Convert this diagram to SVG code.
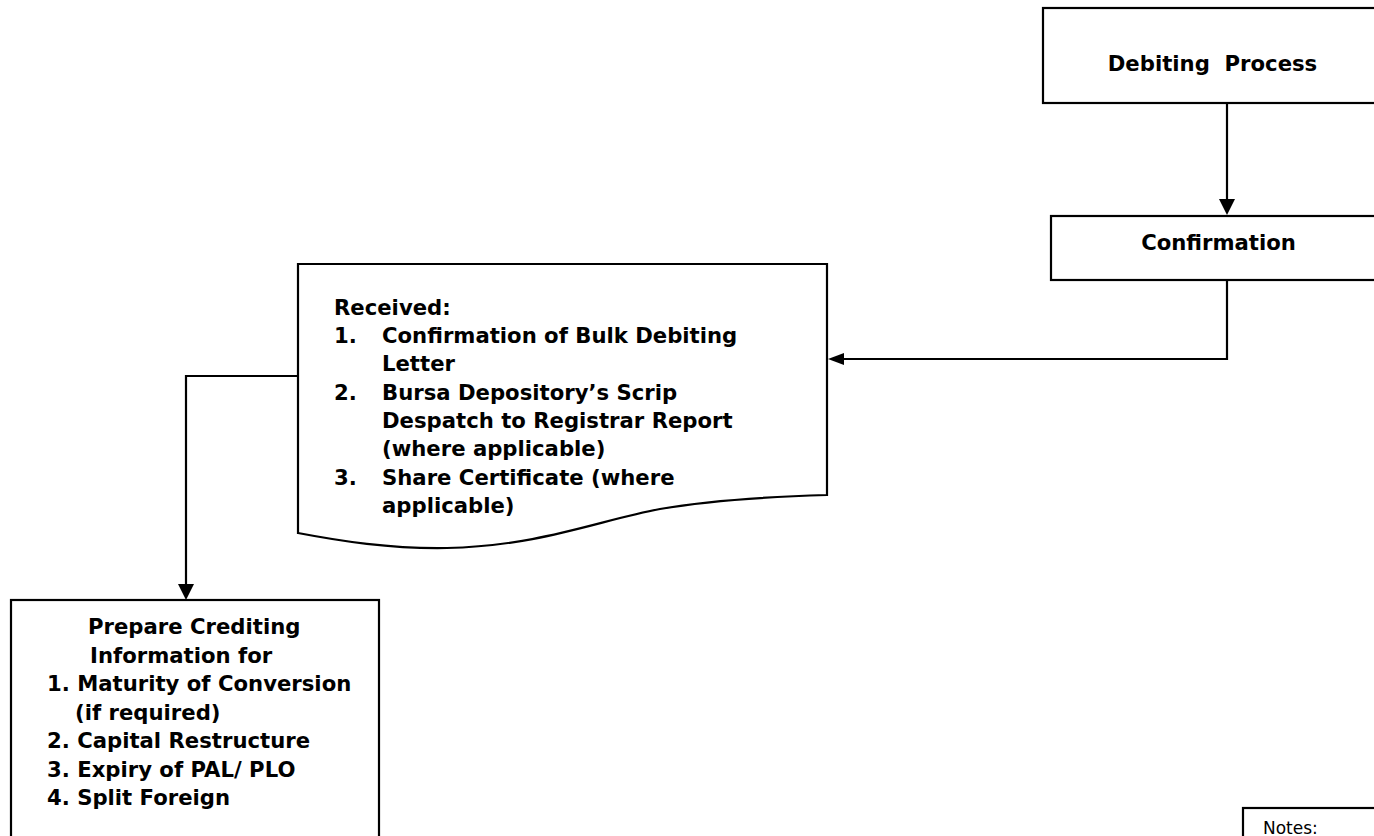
<svg xmlns="http://www.w3.org/2000/svg" width="1374" height="836" viewBox="0 0 1374 836">
<style>
.box{fill:#fff;stroke:#000;stroke-width:2.2}
.t{font-family:"DejaVu Sans",Verdana,sans-serif;font-weight:bold;font-size:21.2px;fill:#000}
.n{font-family:"DejaVu Sans",Verdana,sans-serif;font-size:17px;fill:#000}
.c{fill:none;stroke:#000;stroke-width:2.2}
</style>
<defs>
<marker id="ah" viewBox="0 0 16 16" refX="6" refY="8" markerWidth="16" markerHeight="16" markerUnits="userSpaceOnUse" orient="auto">
<path d="M0,0 L16,8 L0,16 z" fill="#000"/>
</marker>
<marker id="ah2" viewBox="0 0 16 12" refX="6" refY="6" markerWidth="16" markerHeight="12" markerUnits="userSpaceOnUse" orient="auto">
<path d="M0,0 L16,6 L0,12 z" fill="#000"/>
</marker>
</defs>
<g id="debiting">
<rect class="box" x="1043" y="8" width="360" height="95"/>
<text class="t" x="1212.5" y="70.5" text-anchor="middle" xml:space="preserve">Debiting  Process</text>
</g>
<g id="confirmation">
<rect class="box" x="1051" y="216" width="360" height="64"/>
<text class="t" x="1218.5" y="250" text-anchor="middle">Confirmation</text>
</g>
<g id="received">
<path class="box" d="M298,264 L827,264 L827,495 C760,497 700,502 660,509 C600,520 540,546 447,548 C390,549 340,541 298,533 Z"/>
<text class="t" x="334" y="314.5">Received:</text>
<text class="t" x="334" y="342.9">1.</text>
<text class="t" x="382" y="342.9">Confirmation of Bulk Debiting</text>
<text class="t" x="382" y="371.2">Letter</text>
<text class="t" x="334" y="399.6">2.</text>
<text class="t" x="382" y="399.6">Bursa Depository’s Scrip</text>
<text class="t" x="382" y="427.9">Despatch to Registrar Report</text>
<text class="t" x="382" y="456.3">(where applicable)</text>
<text class="t" x="334" y="484.6">3.</text>
<text class="t" x="382" y="484.6">Share Certificate (where</text>
<text class="t" x="382" y="513">applicable)</text>
</g>
<g id="prepare">
<rect class="box" x="11" y="600" width="368" height="260"/>
<text class="t" x="88" y="634">Prepare Crediting</text>
<text class="t" x="90" y="662.5">Information for</text>
<text class="t" x="47" y="691">1. Maturity of Conversion</text>
<text class="t" x="75" y="719.5">(if required)</text>
<text class="t" x="47" y="748">2. Capital Restructure</text>
<text class="t" x="47" y="776.5">3. Expiry of PAL/ PLO</text>
<text class="t" x="47" y="805">4. Split Foreign</text>
</g>
<g id="notes">
<rect class="box" x="1243" y="808" width="160" height="60"/>
<text class="n" x="1263" y="834">Notes:</text>
</g>
<g id="connectors">
<path class="c" d="M1227,103 L1227,205" marker-end="url(#ah)"/>
<path class="c" d="M1227,280 L1227,359 L838,359" marker-end="url(#ah2)"/>
<path class="c" d="M298,376 L186,376 L186,590" marker-end="url(#ah)"/>
</g>
</svg>
